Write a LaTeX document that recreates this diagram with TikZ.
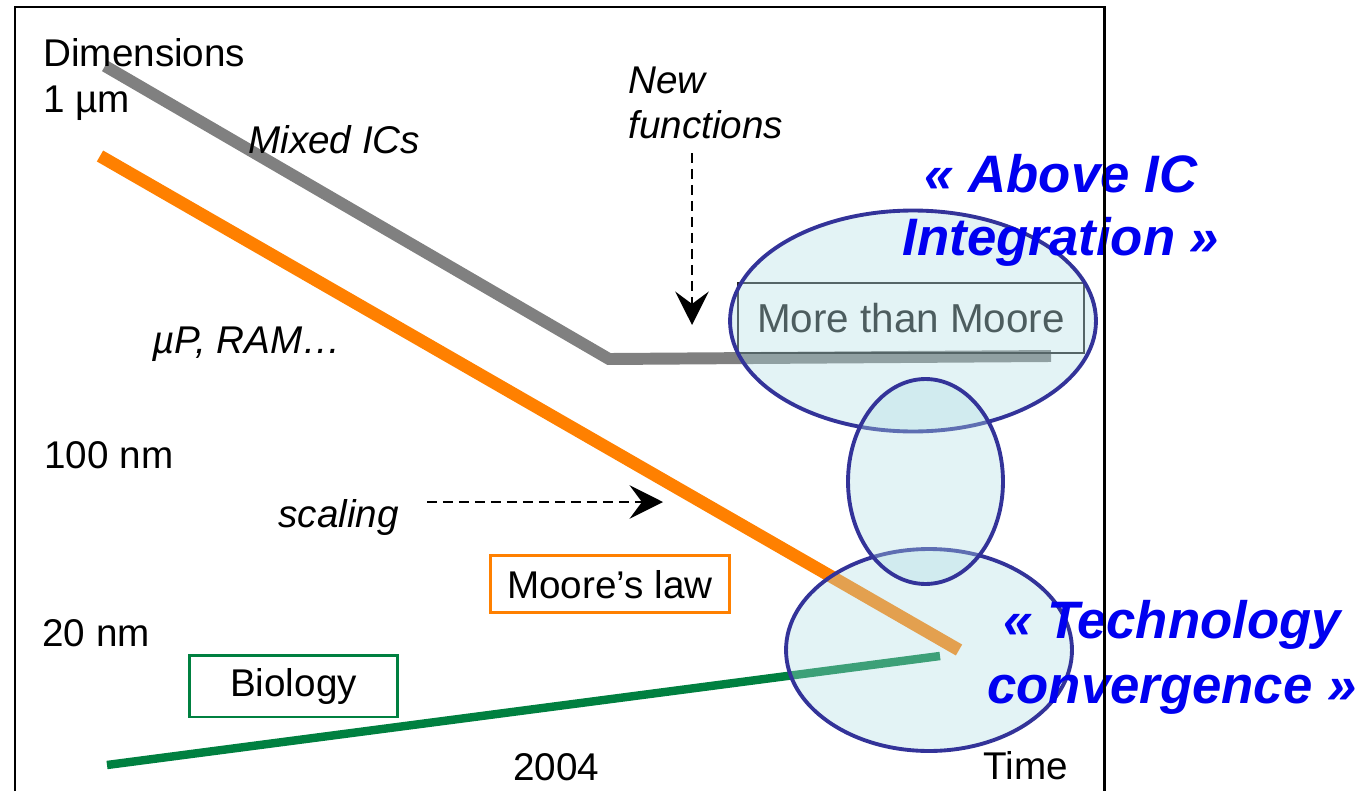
\documentclass[tikz,border=0pt]{standalone}
\usepackage{fontspec}
\setmainfont{Liberation Sans}
\usetikzlibrary{arrows.meta,shapes.geometric}
\definecolor{mgray}{HTML}{808080}
\definecolor{morange}{HTML}{FF8000}
\definecolor{mgreen}{HTML}{008040}
\definecolor{elpblue}{HTML}{333399}
\definecolor{elpfill}{HTML}{AFDDE3}
\definecolor{tagblue}{HTML}{0000F0}
\tikzset{
  lbl/.style   = {inner sep=0pt, font=\fontsize{22}{26}\selectfont},
  lblit/.style = {inner sep=0pt, font=\fontsize{22}{26}\selectfont\itshape},
  tag/.style   = {inner sep=0pt, text=tagblue,
                  font=\fontsize{30}{36}\selectfont\bfseries\itshape},
  bx/.style    = {rectangle, draw, line width=1.7pt, inner sep=0pt,
                  font=\fontsize{22}{26}\selectfont},
  elp/.style   = {ellipse, draw=elpblue, line width=2.2pt, fill=elpfill,
                  fill opacity=0.35, inner sep=0pt},
  trend/.style = {line width=6.8pt},
  arr/.style   = {line width=1.4pt, dash pattern=on 5.7pt off 3.4pt,
                  -{Stealth[length=19pt,width=19pt,inset=7pt]}},
}
\begin{document}
\begin{tikzpicture}[x=0.02cm, y=-0.02cm]
  \useasboundingbox (0,0) rectangle (1372,791);
  % trend lines
  \coordinate (g0) at (105,66);
  \coordinate (g1) at (609,359);
  \coordinate (g2) at (1051,356);
  \coordinate (o0) at (100,156);
  \coordinate (o1) at (959,650);
  \coordinate (b0) at (107,765);
  \coordinate (b1) at (940,656);
  \draw[trend, mgray] (g0) -- (g1) -- (g2);
  \draw[trend, morange, line width=7.2pt] (o0) -- (o1);
  \draw[trend, mgreen, line width=4.8pt] (b0) -- (b1);
  % axis labels
  \node[lbl, anchor=base west] (dim) at (43,66) {Dimensions};
  \node[lbl, anchor=base west] (um) at (43,112) {1 µm};
  \node[lbl, anchor=base west] (n100) at (44,468) {100 nm};
  \node[lbl, anchor=base west] (n20) at (42,646) {20 nm};
  \node[lbl, anchor=base west] (yr) at (513,780) {2004};
  \node[lbl, anchor=base west] (tm) at (983,779) {Time};
  \node[lblit, anchor=base west] (mix) at (248,153) {Mixed ICs};
  \node[lblit, anchor=base west] (up) at (152,353) {µP, RAM…};
  \node[lblit, anchor=base west] (scl) at (278,527) {scaling};
  \node[lblit, anchor=base west] (newf) at (628,93) {New};
  \node[lblit, anchor=base west] (func) at (628,138) {functions};
  % boxes
  \node[bx, draw=morange, minimum width=4.8cm, minimum height=1.14cm, text depth=0pt] (moore) at (610,584) {Moore’s law};
  \node[bx, draw=mgreen, minimum width=4.18cm, minimum height=1.24cm] (bio) at (293.5,686) {Biology};
  \node[bx, draw=black!85, line width=1.1pt, text=black!90, minimum width=6.92cm,
        minimum height=1.4cm, font=\fontsize{23}{27}\selectfont] (mtm) at (911,318) {More than Moore};
  % dashed arrows
  \coordinate (nfa) at (692,153);
  \coordinate (nfb) at (692,325);
  \coordinate (sca) at (427,502);
  \coordinate (scb) at (663,502);
  \draw[arr] (nfa) -- (nfb);
  \draw[arr] (sca) -- (scb);
  % ellipses
  \node[elp, minimum width=7.32cm, minimum height=4.42cm] (etop) at (913,321) {};
  \node[elp, minimum width=5.72cm, minimum height=4.04cm] (ebot) at (929,650) {};
  \node[elp, minimum width=3.1cm, minimum height=4.1cm] (emid) at (925.5,481.5) {};
  % tags
  \node[tag, anchor=base] (abv1) at (1061,192) {« Above IC};
  \node[tag, anchor=base] (abv2) at (1061,255) {Integration »};
  \node[tag, anchor=base] (tec1) at (1172,638) {« Technology};
  \node[tag, anchor=base] (tec2) at (1172,703) {convergence »};
  % frame
  \draw[line width=1.7pt] (15,791) -- (15,7) -- (1104,7) -- (1104,791);
\end{tikzpicture}
\end{document}
